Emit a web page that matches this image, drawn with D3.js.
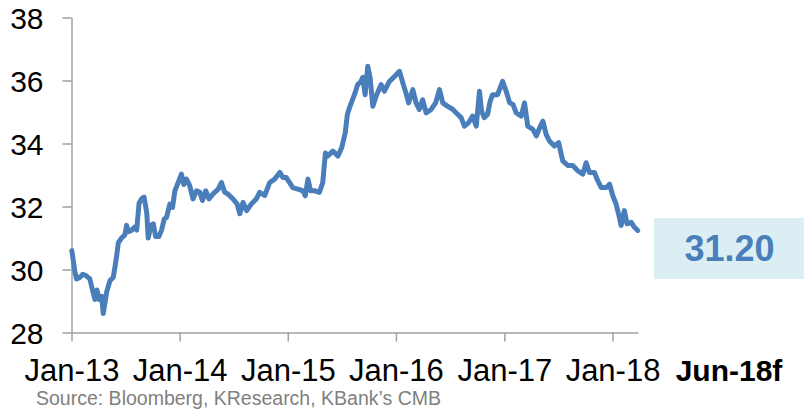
<!DOCTYPE html>
<html>
<head>
<meta charset="utf-8">
<script src="https://cdn.jsdelivr.net/npm/d3@7"></script>
<style>
  body { margin: 0; background: #fff; }
  svg { display: block; font-family: "Liberation Sans", Arial, sans-serif; }
  .axis path, .axis line { stroke: #a0a0a0; stroke-width: 1.5px; }
  .axis text { fill: #000; font-size: 30px; }
  .x.axis text { font-size: 31px; }
</style>
</head>
<body>
<svg width="804" height="409"></svg>
<script>
// chart data
const dates = [
  "2013-01-02","2013-01-06","2013-01-12","2013-01-18","2013-01-29","2013-02-08","2013-02-20","2013-03-04","2013-03-14","2013-03-21",
  "2013-03-28","2013-04-04","2013-04-13","2013-04-18","2013-04-24","2013-04-30","2013-05-11","2013-05-22","2013-05-28","2013-06-02",
  "2013-06-08","2013-06-19","2013-06-30","2013-07-06","2013-07-12","2013-07-23","2013-08-03","2013-08-09","2013-08-17","2013-08-26",
  "2013-09-03","2013-09-12","2013-09-17","2013-09-26","2013-10-04","2013-10-12","2013-10-23","2013-11-01","2013-11-10",
  "2013-11-18","2013-11-29","2013-12-08","2013-12-16","2013-12-27","2014-01-07","2014-01-15","2014-01-24","2014-02-04","2014-02-15",
  "2014-02-27","2014-03-10","2014-03-19","2014-03-30","2014-04-10","2014-04-24","2014-05-11","2014-05-22","2014-06-02","2014-06-13",
  "2014-06-30","2014-07-14","2014-07-23","2014-08-03","2014-08-15","2014-08-31","2014-09-17","2014-09-28",
  "2014-10-15","2014-11-01","2014-11-18","2014-12-05","2014-12-16","2014-12-27","2015-01-07","2015-01-18","2015-02-04","2015-02-21",
  "2015-03-01","2015-03-10","2015-03-19","2015-04-01","2015-04-18","2015-04-29","2015-05-08","2015-05-16","2015-06-02","2015-06-19",
  "2015-07-02","2015-07-14",
  "2015-07-21","2015-07-28","2015-08-14","2015-08-25","2015-09-05","2015-09-11","2015-09-19","2015-09-28","2015-10-06","2015-10-15",
  "2015-10-26","2015-11-12","2015-11-23","2015-12-10","2015-12-27","2016-01-13","2016-01-26","2016-02-04","2016-02-13","2016-02-27",
  "2016-03-09","2016-03-20","2016-03-31","2016-04-12","2016-04-29","2016-05-14","2016-05-27","2016-06-07","2016-06-24","2016-07-11",
  "2016-07-28",
  "2016-08-08","2016-08-19","2016-09-02","2016-09-16","2016-09-28","2016-10-09","2016-10-16","2016-10-25","2016-11-05","2016-11-14",
  "2016-11-22","2016-12-09","2016-12-26","2017-01-07","2017-01-19","2017-01-30","2017-02-10","2017-02-27","2017-03-10","2017-03-21",
  "2017-04-07","2017-04-19","2017-04-30","2017-05-11","2017-05-22","2017-06-02","2017-06-19","2017-07-03",
  "2017-07-17","2017-08-03","2017-08-20","2017-09-06","2017-09-23","2017-10-04","2017-10-15","2017-11-01","2017-11-12","2017-11-24",
  "2017-12-11","2017-12-22","2018-01-02","2018-01-13","2018-01-24","2018-01-30","2018-02-10","2018-02-19","2018-03-05","2018-03-16",
  "2018-03-27"
];

const rates = [
  30.6,30.35,29.95,29.7,29.75,29.85,29.8,29.7,29.3,29.05,
  29.35,29.05,29.15,28.6,28.95,29.3,29.65,29.75,30.1,30.4,
  30.85,31.0,31.1,31.4,31.2,31.25,31.35,31.25,32.1,32.25,
  32.3,31.8,31.0,31.4,31.45,31.05,31.05,31.25,31.6,
  31.66,32.08,31.97,32.5,32.76,33.03,32.7,32.87,32.66,32.24,
  32.5,32.45,32.19,32.5,32.24,32.4,32.55,32.76,32.45,32.4,
  32.24,32.08,31.77,32.13,31.87,32.08,32.24,32.45,
  32.35,32.76,32.87,33.08,32.92,32.92,32.76,32.6,32.55,32.5,
  32.34,32.87,32.5,32.5,32.45,32.76,33.7,33.6,33.76,33.6,
  33.87,34.34,
  34.92,35.13,35.55,35.87,35.97,36.1,35.55,36.45,36.08,35.18,
  35.5,35.87,35.66,35.97,36.13,36.29,35.87,35.6,35.29,35.71,
  35.29,35.08,35.39,34.97,35.08,35.29,35.71,35.29,35.18,35.08,
  34.92,
  34.82,34.55,34.66,34.87,34.55,35.66,35.03,34.82,34.92,35.34,
  35.55,35.55,35.97,35.66,35.29,35.24,34.97,34.87,35.29,34.55,
  34.45,34.24,34.5,34.71,34.29,34.08,33.92,34.03,
  33.45,33.3,33.3,33.13,33.03,33.39,33.08,33.08,32.82,32.6,
  32.6,32.71,32.34,32.08,31.66,31.4,31.87,31.45,31.5,31.34,
  31.24
];

const yTicks = [28, 30, 32, 34, 36, 38];
const forecastLabel = "Jun-18f";
const forecastValue = "31.20";
const sourceText = "Source: Bloomberg, KResearch, KBank\u2019s CMB";

// define constants
const svg = d3.select("svg");
const parse = d3.timeParse("%Y-%m-%d");
const data = dates.map((d, i) => ({ date: parse(d), value: rates[i] }));

const x = d3.scaleTime()
  .domain([parse("2013-01-01"), parse("2018-03-28")])
  .range([71.5, 638]);

const y = d3.scaleLinear()
  .domain([28, 38])
  .range([332.5, 17.5]);

// axes
svg.append("g")
  .attr("class", "y axis")
  .attr("transform", "translate(71.5,0)")
  .call(d3.axisLeft(y).tickValues(yTicks).tickSize(9).tickPadding(19).tickSizeOuter(0))
  .selectAll("text")
    .attr("dy", "0.38em");

svg.append("g")
  .attr("class", "x axis")
  .attr("transform", "translate(0,332.5)")
  .call(d3.axisBottom(x).ticks(d3.timeYear.every(1)).tickFormat(d3.timeFormat("%b-%y"))
    .tickSize(9).tickPadding(17.5).tickSizeOuter(0));

// line
const line = d3.line()
  .x((d) => x(d.date))
  .y((d) => y(d.value));

svg.append("path")
  .datum(data)
  .attr("fill", "none")
  .attr("stroke", "#4a7ebb")
  .attr("stroke-width", 5)
  .attr("stroke-linejoin", "round")
  .attr("stroke-linecap", "round")
  .attr("d", line);

// forecast box
svg.append("rect")
  .attr("x", 654)
  .attr("y", 218)
  .attr("width", 150)
  .attr("height", 61)
  .attr("fill", "#dbeef4");

svg.append("text")
  .attr("x", 729.5)
  .attr("y", 261)
  .attr("text-anchor", "middle")
  .attr("font-size", 36)
  .attr("font-weight", "bold")
  .attr("fill", "#4a7ebb")
  .text(forecastValue);

svg.append("text")
  .attr("x", 729)
  .attr("y", 381)
  .attr("text-anchor", "middle")
  .attr("font-size", 30)
  .attr("font-weight", "bold")
  .text(forecastLabel);

// source note
svg.append("text")
  .attr("x", 36)
  .attr("y", 405)
  .attr("font-size", 19.5)
  .attr("fill", "#808080")
  .text(sourceText);
</script>
</body>
</html>
